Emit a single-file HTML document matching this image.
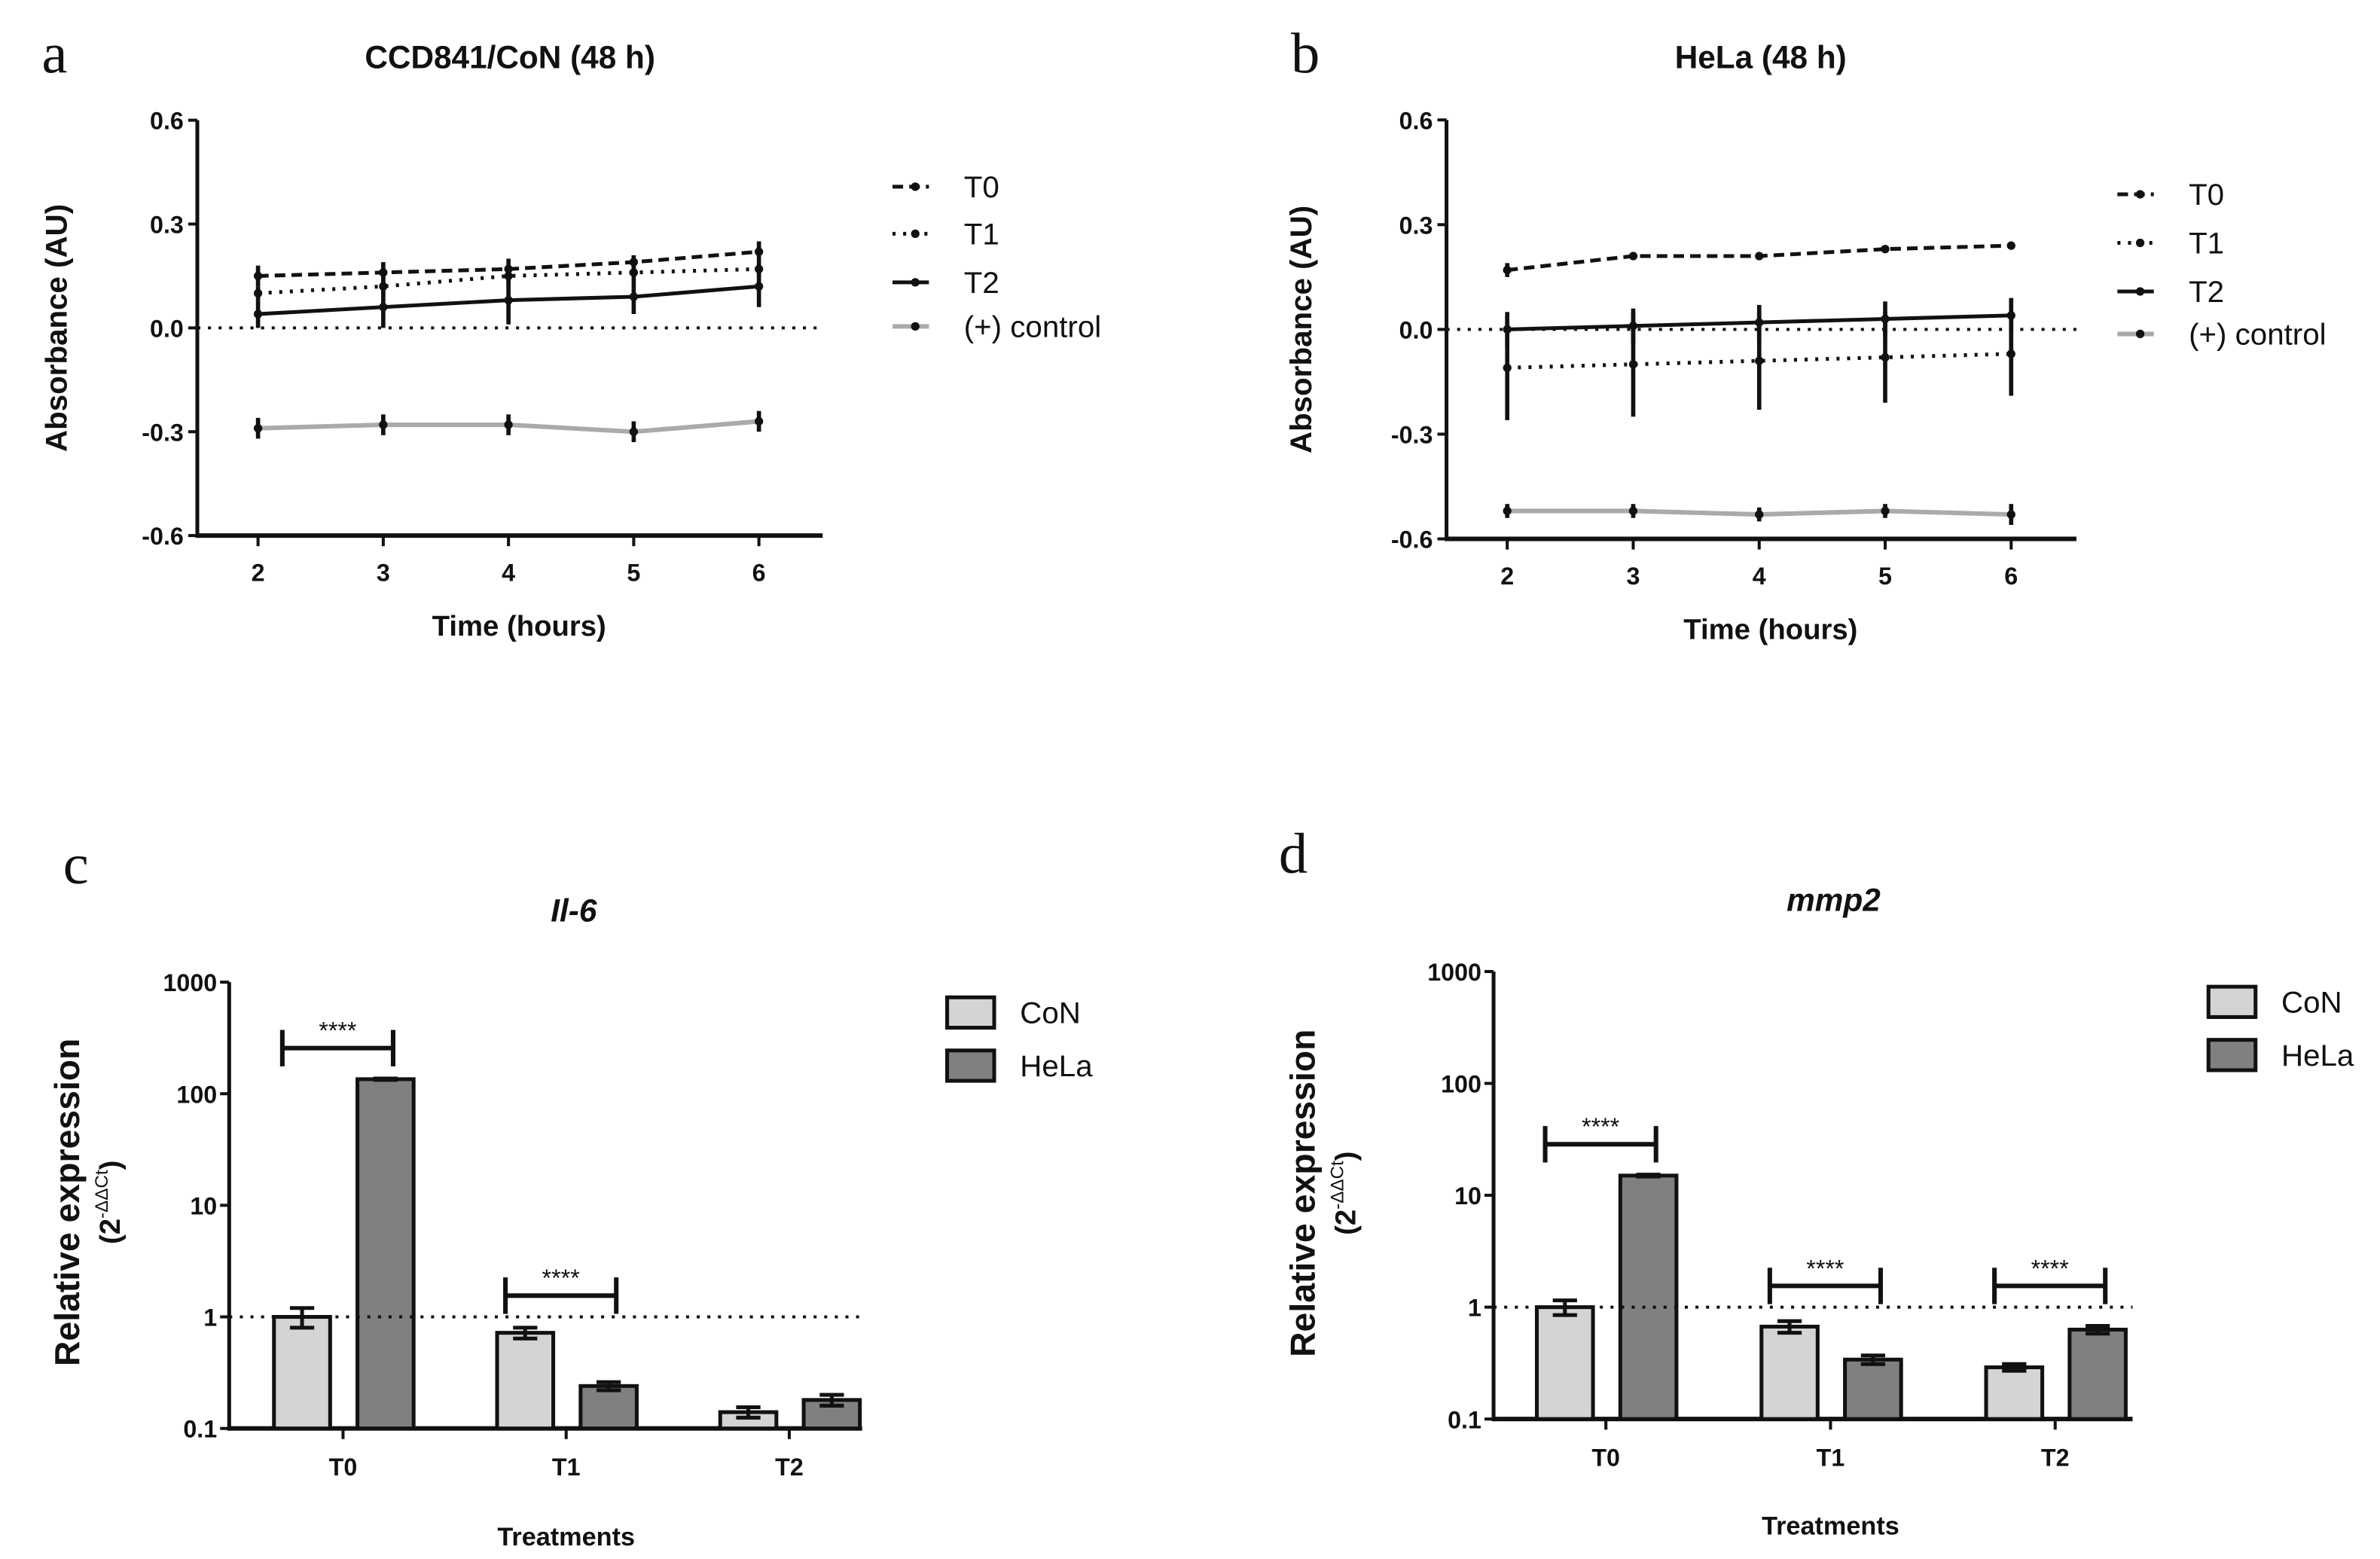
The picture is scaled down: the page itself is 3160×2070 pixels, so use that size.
<!DOCTYPE html>
<html><head><meta charset="utf-8"><style>
html,body{margin:0;padding:0;background:#fff;}
svg{display:block;font-family:"Liberation Sans",Arial,sans-serif;}
</style></head><body>
<svg id="fig" width="3160" height="2070" viewBox="0 0 1568 1027" preserveAspectRatio="none" xmlns="http://www.w3.org/2000/svg">
<rect width="1568" height="1027" fill="#fff"/>
</svg>
<script>
// ---- Panel a/b data (absorbance) ----
const timeCats = [2, 3, 4, 5, 6];
const yTicksLine = [0.6, 0.3, 0.0, -0.3, -0.6];
const aT0 = [0.15, 0.16, 0.17, 0.19, 0.22];
const aT1 = [0.10, 0.12, 0.15, 0.16, 0.17];
const aT2 = [0.04, 0.06, 0.08, 0.09, 0.12];
const aCtrl = [-0.29, -0.28, -0.28, -0.30, -0.27];
const aT0err = [0.03, 0.03, 0.03, 0.02, 0.03];
const aT1err = [0.02, 0.03, 0.03, 0.02, 0.02];
const aT2err = [0.04, 0.06, 0.07, 0.05, 0.06];
const aCtrlErr = [0.03, 0.03, 0.03, 0.03, 0.03];
const bT0 = [0.17, 0.21, 0.21, 0.23, 0.24];
const bT1 = [-0.11, -0.10, -0.09, -0.08, -0.07];
const bT2 = [0.00, 0.01, 0.02, 0.03, 0.04];
const bCtrl = [-0.52, -0.52, -0.53, -0.52, -0.53];
const bT0err = [0.02, 0.01, 0.01, 0.01, 0.01];
const bT1err = [0.15, 0.15, 0.14, 0.13, 0.12];
const bT2err = [0.05, 0.05, 0.05, 0.05, 0.05];
const bCtrlErr = [0.02, 0.02, 0.02, 0.02, 0.03];
// ---- Panel c/d data (relative expression) ----
const treatCats = ["T0", "T1", "T2"];
const logTicks = [1000, 100, 10, 1, 0.1];
const logTickLabels = ["1000", "100", "10", "1", "0.1"];
const cCoN = [1.0, 0.72, 0.14];
const cHeLa = [135, 0.24, 0.18];
const cCoNerr = [0.2, 0.08, 0.015];
const cHeLaErr = [2, 0.02, 0.02];
const cSig = [1, 1, 0];
const dCoN = [1.0, 0.67, 0.29];
const dHeLa = [15, 0.34, 0.63];
const dCoNerr = [0.15, 0.08, 0.02];
const dHeLaErr = [0.3, 0.03, 0.05];
const dSig = [1, 1, 1];

const NS = "http://www.w3.org/2000/svg";
const svg = document.getElementById("fig");
function mk(tag, attrs, parent, txt) {
  const e = document.createElementNS(NS, tag);
  for (const k in attrs) e.setAttribute(k, attrs[k]);
  if (txt !== undefined) e.textContent = txt;
  (parent || svg).appendChild(e);
  return e;
}
function grp(name) {
  const g = mk("g", {});
  
  
  return g;
}
function text(g, x, y, s, size, extra) {
  const a = Object.assign({x: x, y: y, "font-size": size, "text-anchor": "middle", "font-weight": "bold", fill: "#111"}, extra || {});
  return mk("text", a, g, s);
}

function linePanel(o) {
  const g = grp(o.name);
  const X = v => o.x0 + (v - 2) * o.dx;
  const Y = v => o.y0 - v * o.dy;
  const lt = text(g, o.letterX, 48, o.letter, 38, {"font-family": "Liberation Serif, serif", "font-weight": "normal"});
  
  
  const tt = text(g, o.titleX, 45, o.title, 21);
  
  
  mk("line", {x1: o.axX, y1: Y(0.6), x2: o.axX, y2: Y(-0.6) + 1.5, stroke: "#111", "stroke-width": 2.5}, g);
  mk("line", {x1: o.axX, y1: Y(-0.6), x2: o.axEnd, y2: Y(-0.6), stroke: "#111", "stroke-width": 3}, g);
  yTicksLine.forEach(v => {
    mk("line", {x1: o.axX - 6, y1: Y(v), x2: o.axX, y2: Y(v), stroke: "#111", "stroke-width": 2}, g);
    const t = text(g, o.axX - 9, Y(v) + 6, v.toFixed(1), 16, {"text-anchor": "end"});
    
    
  });
  timeCats.forEach(c => {
    mk("line", {x1: X(c), y1: Y(-0.6), x2: X(c), y2: Y(-0.6) + 7, stroke: "#111", "stroke-width": 2}, g);
    const t = text(g, X(c), Y(-0.6) + 30, String(c), 16);
    
    
  });
  mk("line", {x1: o.axX, y1: Y(0), x2: o.axEnd, y2: Y(0), stroke: "#111", "stroke-width": 2, "stroke-dasharray": "2,5"}, g);
  const xl = text(g, (o.axX + o.axEnd) / 2 + 6, Y(-0.6) + 66, "Time (hours)", 19);
  
  
  const yl = text(g, 0, 0, "Absorbance (AU)", 20, {transform: `translate(${o.ylabX},${Y(0)}) rotate(-90)`});
  
  
  const series = [
    {n: "T0", v: o.t0, e: o.t0e, c: "#111", w: 2.5, d: "7,4"},
    {n: "T1", v: o.t1, e: o.t1e, c: "#111", w: 2.5, d: "2,5"},
    {n: "T2", v: o.t2, e: o.t2e, c: "#111", w: 2.5, d: ""},
    {n: "control", v: o.ct, e: o.cte, c: "#aaa", w: 3, d: ""}
  ];
  series.forEach((s, si) => {
    const sg = mk("g", {}, g);
    
    
    const pts = s.v.map((v, i) => X(timeCats[i]) + "," + Y(v)).join(" ");
    mk("polyline", {points: pts, fill: "none", stroke: s.c, "stroke-width": s.w, "stroke-dasharray": s.d}, sg);
    s.v.forEach((v, i) => {
      const x = X(timeCats[i]);
      mk("line", {x1: x, y1: Y(v + s.e[i]), x2: x, y2: Y(v - s.e[i]), stroke: "#111", "stroke-width": 2.8}, sg);
      mk("circle", {cx: x, cy: Y(v), r: 2.8, fill: "#111"}, sg);
    });
    const ly = o.legY[si];
    const le = mk("g", {}, g);
    
    
    mk("line", {x1: o.legX, y1: ly, x2: o.legX + 24, y2: ly, stroke: s.c, "stroke-width": s.w, "stroke-dasharray": s.d}, le);
    mk("circle", {cx: o.legX + 15, cy: ly, r: 2.8, fill: "#111"}, le);
    text(le, o.legX + 47, ly + 7, si === 3 ? "(+) control" : s.n, 20, {"text-anchor": "start", "font-weight": "normal"});
  });
}

linePanel({name: "panel-a-chart", letter: "a", letterX: 36, title: "CCD841/CoN (48 h)", titleX: 336,
  axX: 130, axEnd: 542, x0: 170, dx: 82.5, y0: 216, dy: 228, ylabX: 44,
  t0: aT0, t1: aT1, t2: aT2, ct: aCtrl, t0e: aT0err, t1e: aT1err, t2e: aT2err, cte: aCtrlErr,
  legX: 588, legY: [123, 154, 186, 215]});
linePanel({name: "panel-b-chart", letter: "b", letterX: 860, title: "HeLa (48 h)", titleX: 1160,
  axX: 953, axEnd: 1368, x0: 993, dx: 83, y0: 217, dy: 230, ylabX: 864,
  t0: bT0, t1: bT1, t2: bT2, ct: bCtrl, t0e: bT0err, t1e: bT1err, t2e: bT2err, cte: bCtrlErr,
  legX: 1395, legY: [128, 160, 192, 220]});

function barPanel(o) {
  const g = grp(o.name);
  const Y = v => o.yTop + (3 - Math.log10(v)) * o.dec;
  const yBase = Y(0.1);
  const lt = text(g, o.letterX, o.letterY, o.letter, 38, {"font-family": "Liberation Serif, serif", "font-weight": "normal"});
  
  
  const tt = text(g, o.titleX, o.titleY, o.title, 21, {"font-style": "italic"});
  
  
  mk("line", {x1: o.axX, y1: Y(1000), x2: o.axX, y2: yBase + 1.5, stroke: "#111", "stroke-width": 2.5}, g);
  mk("line", {x1: o.axX, y1: yBase, x2: o.axEnd, y2: yBase, stroke: "#111", "stroke-width": 3}, g);
  logTicks.forEach((v, i) => {
    mk("line", {x1: o.axX - 6, y1: Y(v), x2: o.axX, y2: Y(v), stroke: "#111", "stroke-width": 2}, g);
    const t = text(g, o.axX - 8, Y(v) + 6, logTickLabels[i], 16, {"text-anchor": "end"});
    
    
  });
  treatCats.forEach((c, i) => {
    const cx = o.cx0 + i * o.cdx;
    mk("line", {x1: cx, y1: yBase, x2: cx, y2: yBase + 7, stroke: "#111", "stroke-width": 2}, g);
    const t = text(g, cx, yBase + 31, c, 16);
    
    
    [[o.con, o.cone, "#d4d4d4", -27, "con"], [o.hela, o.helae, "#808080", 28, "hela"]].forEach(s => {
      const bx = cx + s[3] - 18.5;
      const v = s[0][i], e = s[1][i];
      const b = mk("rect", {x: bx, y: Y(v), width: 37, height: yBase - Y(v), fill: s[2], stroke: "#111", "stroke-width": 2.5}, g);
      
      
      const mx = bx + 18.5;
      const lo = Math.max(v - e, 0.101);
      mk("line", {x1: mx, y1: Y(v + e), x2: mx, y2: Y(lo), stroke: "#111", "stroke-width": 2.5}, g);
      mk("line", {x1: mx - 8, y1: Y(v + e), x2: mx + 8, y2: Y(v + e), stroke: "#111", "stroke-width": 2.5}, g);
      mk("line", {x1: mx - 8, y1: Y(lo), x2: mx + 8, y2: Y(lo), stroke: "#111", "stroke-width": 2.5}, g);
    });
    if (o.sig[i]) {
      const sg = mk("g", {}, g);
      
      
      const top = Math.max(o.con[i] + o.cone[i], o.hela[i] + o.helae[i]);
      const by = Math.min(Y(top) - 20, Y(1) - 14);
      const x1 = cx - 40, x2 = cx + 33;
      mk("line", {x1: x1, y1: by, x2: x2, y2: by, stroke: "#111", "stroke-width": 3}, sg);
      mk("line", {x1: x1, y1: by - 12, x2: x1, y2: by + 12, stroke: "#111", "stroke-width": 3}, sg);
      mk("line", {x1: x2, y1: by - 12, x2: x2, y2: by + 12, stroke: "#111", "stroke-width": 3}, sg);
      text(sg, (x1 + x2) / 2, by - 6, "****", 16, {"font-weight": "normal"});
    }
  });
  mk("line", {x1: o.axX, y1: Y(1), x2: o.axEnd, y2: Y(1), stroke: "#111", "stroke-width": 2, "stroke-dasharray": "2,5"}, g);
  const xl = text(g, o.cx0 + o.cdx, o.xlabY, "Treatments", 17);
  
  
  const yl = mk("g", {transform: `translate(${o.ylabX},${o.ylabY}) rotate(-90)`}, g);
  
  
  text(yl, 0, 0, "Relative expression", 23);
  const t2 = text(yl, 0, 27, "(2", 19);
  mk("tspan", {"font-size": 12, dy: -8, "font-weight": "normal"}, t2, "-ΔΔCt");
  mk("tspan", {dy: 8}, t2, ")");
  [["CoN", "#d4d4d4"], ["HeLa", "#808080"]].forEach((s, i) => {
    const le = mk("g", {}, g);
    
    
    const y = o.legY + i * 35;
    mk("rect", {x: o.legX, y: y, width: 31, height: 20, fill: s[1], stroke: "#111", "stroke-width": 2.5}, le);
    text(le, o.legX + 48, y + 17, s[0], 20, {"text-anchor": "start", "font-weight": "normal"});
  });
}

barPanel({name: "panel-c-chart", letter: "c", letterX: 50, letterY: 582, title: "Il-6", titleX: 378, titleY: 607,
  axX: 151, axEnd: 568, yTop: 647, dec: 73.5, cx0: 226, cdx: 147,
  con: cCoN, cone: cCoNerr, hela: cHeLa, helae: cHeLaErr, sig: cSig,
  xlabY: 1018, ylabX: 52, ylabY: 792, legX: 624, legY: 657});
barPanel({name: "panel-d-chart", letter: "d", letterX: 852, letterY: 575, title: "mmp2", titleX: 1208, titleY: 600,
  axX: 984, axEnd: 1405, yTop: 640, dec: 73.7, cx0: 1058, cdx: 148,
  con: dCoN, cone: dCoNerr, hela: dHeLa, helae: dHeLaErr, sig: dSig,
  xlabY: 1011, ylabX: 866, ylabY: 786, legX: 1455, legY: 650});
</script>
</body></html>
